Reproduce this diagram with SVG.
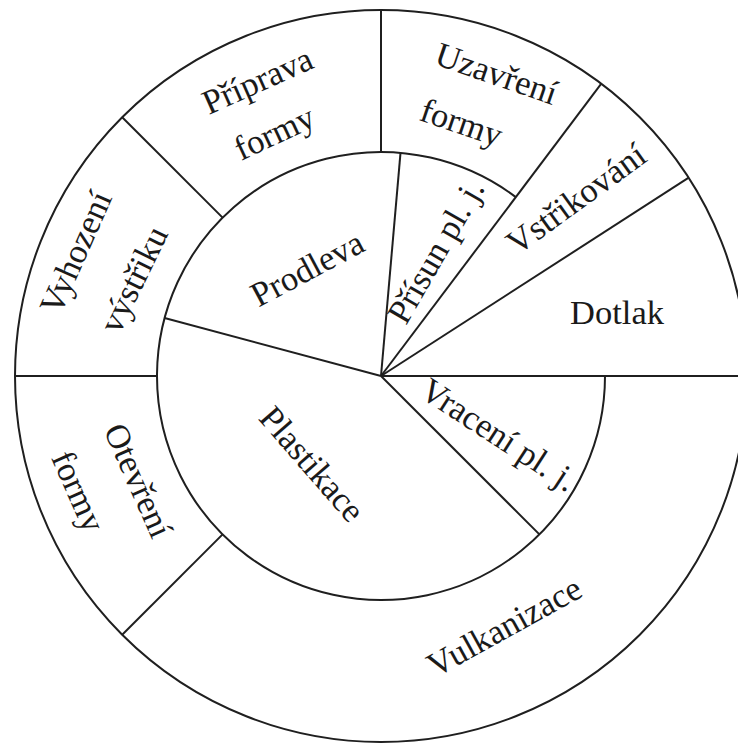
<svg xmlns="http://www.w3.org/2000/svg" width="738" height="744" viewBox="0 0 738 744">
<style>
.ln{fill:none;stroke:#1f1f1f;stroke-width:2}
.t{font-family:"Liberation Serif","Times New Roman",serif;font-size:34.5px;fill:#1a1a1a;text-anchor:middle}
</style>
<rect width="738" height="744" fill="#fff"/>
<g id="connectors">
<circle class="ln" cx="381" cy="376" r="366"/>
<path class="ln" d="M515.8,197.1 A224,224 0 1 0 605,376"/>
<line class="ln" x1="15" y1="376" x2="157" y2="376"/>
<line class="ln" x1="381" y1="376" x2="164.6" y2="318"/>
<line class="ln" x1="222.6" y1="217.6" x2="122.2" y2="117.2"/>
<line class="ln" x1="381" y1="152" x2="381" y2="10"/>
<line class="ln" x1="381" y1="376" x2="400.5" y2="152.9"/>
<line class="ln" x1="381" y1="376" x2="601.3" y2="83.7"/>
<line class="ln" x1="381" y1="376" x2="688.7" y2="177.7"/>
<line class="ln" x1="381" y1="376" x2="740" y2="376"/>
<line class="ln" x1="381" y1="376" x2="539.4" y2="534.4"/>
<line class="ln" x1="222.6" y1="534.4" x2="122.2" y2="634.8"/>
</g>
<g id="dotlak"><text class="t" x="617" y="324">Dotlak</text></g>
<g id="priprava-formy">
<text class="t" transform="translate(258,82) rotate(-24)" y="10">Příprava</text>
<text class="t" transform="translate(275,134) rotate(-25)" y="10">formy</text>
</g>
<g id="uzavreni-formy">
<text class="t" transform="translate(496,75) rotate(19)" y="10">Uzavření</text>
<text class="t" transform="translate(461,124) rotate(19)" y="10">formy</text>
</g>
<g id="vstrikovani"><text class="t" transform="translate(577,200) rotate(-36)" y="10">Vstřikování</text></g>
<g id="prisun"><text class="t" transform="translate(437,252) rotate(-60)" y="10">Přísun pl. j.</text></g>
<g id="vraceni"><text class="t" transform="translate(498,436) rotate(33)" y="10">Vracení pl. j.</text></g>
<g id="vulkanizace"><text class="t" transform="translate(505,628) rotate(-29)" y="10">Vulkanizace</text></g>
<g id="plastikace"><text class="t" transform="translate(311,465) rotate(49)" y="10">Plastikace</text></g>
<g id="prodleva"><text class="t" transform="translate(308,270) rotate(-28)" y="10">Prodleva</text></g>
<g id="vyhozeni-vystriku">
<text class="t" transform="translate(77,253) rotate(-66)" y="10">Vyhození</text>
<text class="t" transform="translate(135,280) rotate(-64)" y="10">výstřiku</text>
</g>
<g id="otevreni-formy">
<text class="t" transform="translate(137,481) rotate(66)" y="10">Otevření</text>
<text class="t" transform="translate(77,492) rotate(66)" y="10">formy</text>
</g>
</svg>
